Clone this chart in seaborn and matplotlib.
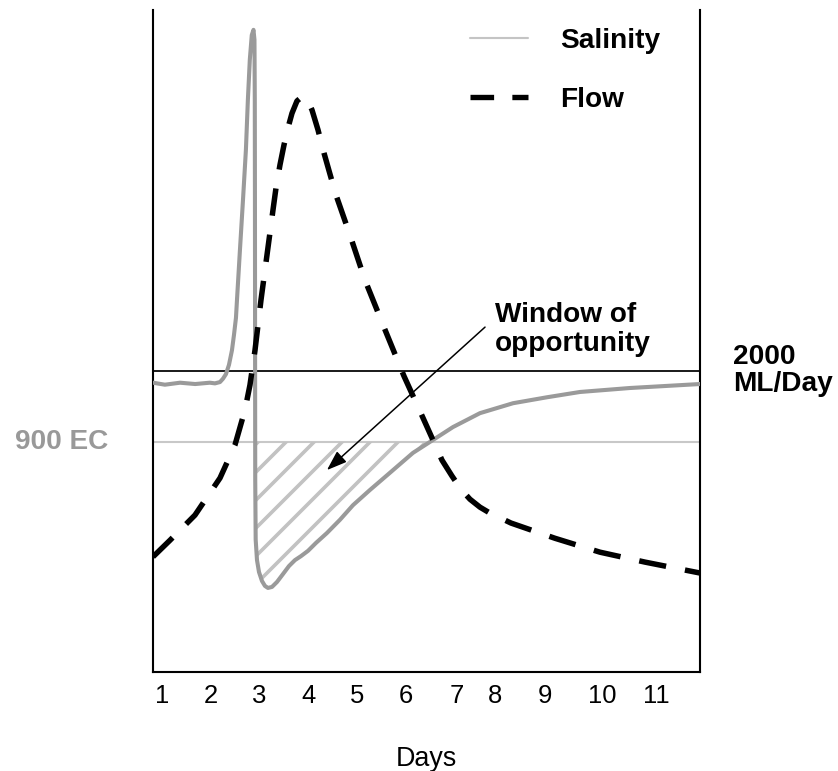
import numpy as np
import pandas as pd
import seaborn as sns
import matplotlib.pyplot as plt
from matplotlib.lines import Line2D

# salinity trace (days, relative level)
sal_day = [0.816, 1.06, 1.37, 1.68, 1.98, 2.086, 2.189, 2.25, 2.311, 2.373, 2.434, 2.475,
           2.516, 2.537, 2.598, 2.66, 2.72, 2.76, 2.80, 2.84, 2.875, 2.895, 2.902, 2.905,
           2.907, 2.909, 2.911, 2.92, 2.947, 2.988, 3.049, 3.11, 3.172, 3.254, 3.357,
           3.48, 3.602, 3.725, 3.848, 3.992, 4.156, 4.381, 4.648, 4.914, 5.262, 5.672,
           6.143, 6.553, 6.963, 7.516, 8.193, 8.889, 9.566, 10.59, 12.025]
sal_val = [43.7, 43.4, 43.7, 43.5, 43.7, 43.6, 43.8, 44.3, 45.0, 46.4, 48.6, 50.9,
           53.5, 56.2, 63.8, 71.3, 78.9, 86.4, 92.5, 96.2, 97.0, 95.5, 86.4, 71.3,
           56.2, 41.0, 29.0, 20.0, 16.9, 15.1, 13.75, 13.0, 12.7, 12.85, 13.6,
           14.8, 16.0, 16.9, 17.5, 18.3, 19.5, 21.0, 23.0, 25.2, 27.5, 30.1,
           33.1, 35.05, 37.0, 39.1, 40.6, 41.5, 42.3, 42.9, 43.5]

# flow trace
flow_day = [0.816, 1.164, 1.676, 2.189, 2.496, 2.701, 2.803, 2.906, 3.029, 3.152, 3.275,
            3.336, 3.418, 3.50, 3.582, 3.664, 3.766, 3.869, 3.971, 4.074, 4.197, 4.32,
            4.443, 4.566, 4.852, 5.160, 5.570, 5.959, 6.348, 6.738, 6.943, 7.127, 7.311,
            7.516, 7.721, 7.926, 8.152, 9.053, 9.975, 10.898, 12.025]
flow_val = [17.4, 19.9, 23.7, 29.3, 34.3, 39.6, 43.35, 48.6, 56.2, 63.0, 69.8,
            73.1, 76.6, 79.6, 82.2, 84.4, 86.25, 86.9, 86.6, 84.9, 81.9, 78.4,
            75.2, 72.05, 66.0, 59.2, 51.7, 44.7, 38.4, 32.0, 29.6, 27.6, 26.1,
            24.9, 24.0, 23.3, 22.5, 20.2, 18.1, 16.6, 14.95]

ec_level = 34.74      # 900 EC
flow_level = 45.47    # 2000 ML/Day

tick_pos = [1, 2, 3, 4, 5, 6, 7.05, 7.82, 8.85, 10.02, 11.14]
tick_labels = ['1', '2', '3', '4', '5', '6', '7', '8', '9', '10', '11']

sns.set_style("white")
plt.rcParams['font.family'] = ['Liberation Sans', 'DejaVu Sans']
plt.rcParams['hatch.linewidth'] = 1.55
plt.rcParams['text.color'] = 'black'
plt.rcParams['axes.labelcolor'] = 'black'
plt.rcParams['xtick.color'] = 'black'

sal = pd.DataFrame({'day': sal_day, 'val': sal_val})
flow = pd.DataFrame({'day': flow_day, 'val': flow_val})

fig = plt.figure(figsize=(838 / 168, 771 / 168), dpi=168)
ax = fig.add_axes([153 / 838, 99 / 771, 547 / 838, 662 / 771])

# reference lines
ax.axhline(flow_level, color='black', lw=0.75, zorder=1)
ax.axhline(ec_level, color='#c8c8c8', lw=0.9, zorder=1)

# window of opportunity (hatched)
sal_arr = np.array(sal_val)
ax.fill_between(sal_day, sal_val, ec_level, where=sal_arr < ec_level, interpolate=True,
                facecolor='none', edgecolor='#c2c2c2', hatch='//', linewidth=0, zorder=1.5)

sns.lineplot(data=sal, x='day', y='val', sort=False, estimator=None, ax=ax,
             color='#9a9a9a', lw=1.75, zorder=3)
sns.lineplot(data=flow, x='day', y='val', sort=False, estimator=None, ax=ax,
             color='black', lw=2.35, ls=(0, (5, 3.5)), zorder=4)

ax.set_xlim(0.816, 12.025)
ax.set_ylim(0, 100)
ax.set_xticks(tick_pos)
ax.set_xticklabels(tick_labels, fontsize=11)
ax.set_yticks([])
ax.tick_params(axis='x', length=0, pad=5)
ax.set_xlabel('Days', fontsize=11.5, labelpad=16.5)
ax.set_ylabel('')

ax.spines['top'].set_visible(False)
for s in ['left', 'right', 'bottom']:
    ax.spines[s].set_color('black')
    ax.spines[s].set_linewidth(0.9)

# labels
ax.text(-0.0823, ec_level, '900 EC', transform=ax.get_yaxis_transform(), ha='right',
        va='center', color='#999999', fontweight='bold', fontsize=12)
ax.text(1.06, flow_level, '2000\nML/Day', transform=ax.get_yaxis_transform(), ha='left',
        va='center', fontweight='bold', fontsize=12, linespacing=1.05)
ax.text(7.82, 51.8, 'Window of\nopportunity', ha='left', va='center',
        fontweight='bold', fontsize=12, linespacing=1.15)
ax.annotate('', xy=(4.38, 30.5), xytext=(7.62, 52.1),
            arrowprops=dict(arrowstyle='-|>,head_length=0.73,head_width=0.26',
                            mutation_scale=10, lw=0.65, color='black',
                            shrinkA=0, shrinkB=0))

handles = [Line2D([], [], color='#c4c4c4', lw=0.9),
           Line2D([], [], color='black', lw=2.3, dashes=(4.4, 3.4))]
ax.legend(handles, ['Salinity', 'Flow'], frameon=False, loc='upper left',
          bbox_to_anchor=((470 - 153) / 547, (672 - 28) / 662),
          borderpad=0, borderaxespad=0, handlelength=2.07, handletextpad=1.14,
          labelspacing=1.18, prop=dict(weight='bold', size=12))

fig.savefig('out.png', dpi=168)
